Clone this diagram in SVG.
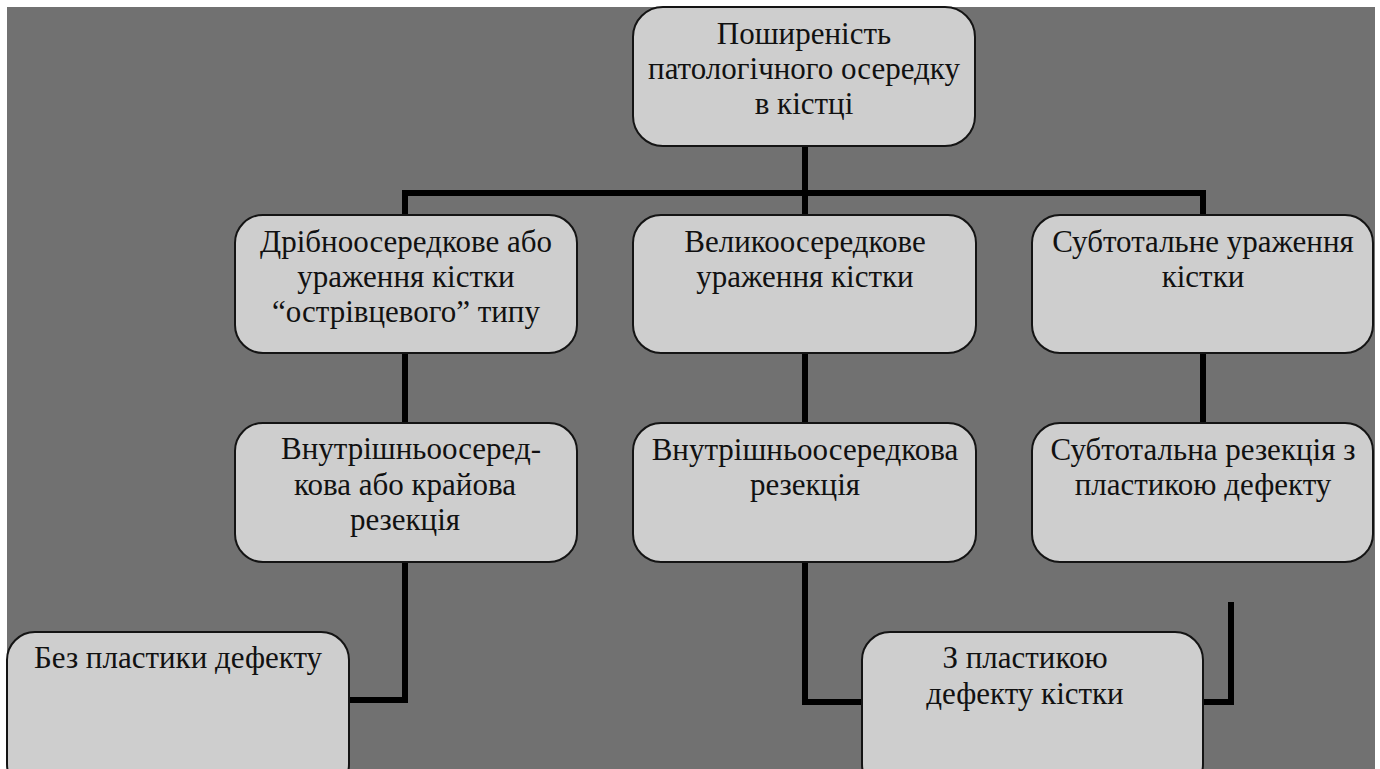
<svg xmlns="http://www.w3.org/2000/svg" width="1380" height="769" viewBox="0 0 1380 769">
<style>
.box{fill:#cecece;stroke:#141414;stroke-width:2}
.t{font-family:"Liberation Serif","Times New Roman","DejaVu Serif",serif;font-size:31px;fill:#111;text-anchor:middle}
.c{fill:none;stroke:#000;stroke-width:6;stroke-linejoin:miter;stroke-linecap:butt}
</style>
<rect x="0" y="0" width="1380" height="769" fill="#ffffff"/>
<rect x="7" y="7" width="1368" height="762" fill="#717171"/>
<g id="connectors">
<path class="c" d="M805 146 V215"/>
<path class="c" d="M405 215 V193 H1203 V215"/>
<path class="c" d="M405 353 V423"/>
<path class="c" d="M805 353 V423"/>
<path class="c" d="M1203 353 V423"/>
<path class="c" d="M405 562 V700 H349"/>
<path class="c" d="M805 562 V702 H862"/>
<path class="c" d="M1231 602 V702 H1203"/>
</g>
<g id="n-top">
<rect class="box" x="633" y="7" width="342" height="139" rx="30"/>
<text class="t" x="804" y="44">Поширеність</text>
<text class="t" x="804" y="79">патологічного осередку</text>
<text class="t" x="804" y="114">в кістці</text>
</g>
<g id="n-a">
<rect class="box" x="235" y="215" width="342" height="138" rx="28"/>
<text class="t" x="406" y="252">Дрібноосередкове або</text>
<text class="t" x="406" y="287">ураження кістки</text>
<text class="t" x="406" y="322">“острівцевого” типу</text>
</g>
<g id="n-b">
<rect class="box" x="633" y="215" width="343" height="138" rx="28"/>
<text class="t" x="805" y="252">Великоосередкове</text>
<text class="t" x="805" y="287">ураження кістки</text>
</g>
<g id="n-c">
<rect class="box" x="1032" y="215" width="341" height="138" rx="28"/>
<text class="t" x="1203" y="252">Субтотальне ураження</text>
<text class="t" x="1203" y="287">кістки</text>
</g>
<g id="n-d">
<rect class="box" x="235" y="423" width="342" height="139" rx="28"/>
<text class="t" x="411" y="459">Внутрішньоосеред-</text>
<text class="t" x="405" y="495">кова або крайова</text>
<text class="t" x="405" y="530">резекція</text>
</g>
<g id="n-e">
<rect class="box" x="633" y="423" width="343" height="139" rx="28"/>
<text class="t" x="805" y="460">Внутрішньоосередкова</text>
<text class="t" x="805" y="495">резекція</text>
</g>
<g id="n-f">
<rect class="box" x="1032" y="423" width="341" height="139" rx="28"/>
<text class="t" x="1203" y="460">Субтотальна резекція з</text>
<text class="t" x="1203" y="495">пластикою дефекту</text>
</g>
<g id="n-g">
<rect class="box" x="7" y="632" width="342" height="160" rx="28"/>
<text class="t" x="178" y="668">Без пластики дефекту</text>
</g>
<g id="n-h">
<rect class="box" x="862" y="632" width="341" height="160" rx="28"/>
<text class="t" x="1025" y="668">З пластикою</text>
<text class="t" x="1025" y="704">дефекту кістки</text>
</g>
</svg>
